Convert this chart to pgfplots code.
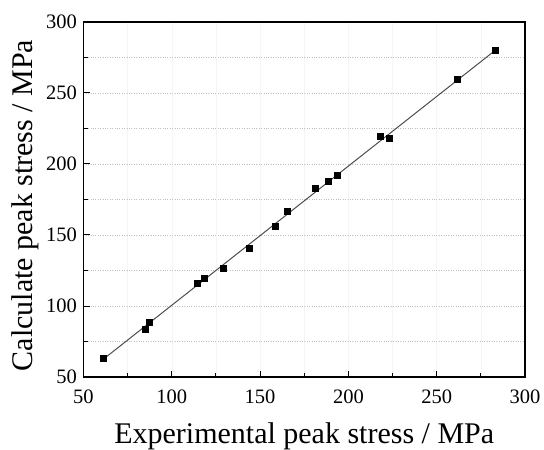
\documentclass[border=0pt]{standalone}
\usepackage{fontspec}
\setmainfont{Liberation Serif}
\usepackage{pgfplots}
\pgfplotsset{compat=1.18}
\begin{document}
\begin{tikzpicture}
\path[use as bounding box] (-83.5pt,-73pt) rectangle (460.5pt,377pt);
\begin{axis}[
  at={(0,0)}, anchor=south west,
  scale only axis, width=441.5pt, height=355pt,
  xmin=50, xmax=300, ymin=50, ymax=300,
  xtick={50,100,...,300}, ytick={50,100,...,300},
  minor xtick={75,125,...,275}, minor ytick={75,125,...,275},
  xtick pos=bottom, ytick pos=left,
  tick align=inside,
  major tick length=6pt, minor tick length=4pt,
  every tick/.style={black, line width=1pt},
  axis line style={black, line width=1.4pt},
  ymajorgrids, yminorgrids, xmajorgrids, xminorgrids,
  y grid style={gray!50, dotted, line width=0.7pt},
  x grid style={gray!8, line width=0.5pt},
  /pgf/number format/assume math mode=true,
  ticklabel style={font=\fontsize{20.5}{20.5}\selectfont},
  xticklabel style={yshift=-9pt},
  yticklabel style={xshift=-3pt},
  xlabel={Experimental peak stress / MPa},
  ylabel={Calculate peak stress / MPa},
  xlabel style={font=\fontsize{30}{30}\selectfont, at={(axis description cs:0.5,0)}, anchor=base, yshift=-66pt},
  ylabel style={font=\fontsize{30}{30}\selectfont, at={(axis description cs:0,0.5)}, anchor=base, yshift=50.5pt, xshift=-6pt},
]
\addplot[gray!60!black, line width=1pt, no markers] coordinates {(61.4,62.7) (283.4,280.3)};
\addplot[only marks, mark=square*, mark size=3pt, black] coordinates {
(61.4,62.9) (85,84) (87.1,88.5) (114.3,116.2) (118.1,119.5) (129,126.5)
(144.1,140.8) (158.6,156.3) (165.1,166.9) (181.3,183.3) (188.8,188)
(193.4,191.8) (217.9,219.9) (223.2,218.1) (261.7,259.9) (283.4,280.3)
};
\end{axis}
\end{tikzpicture}
\end{document}
